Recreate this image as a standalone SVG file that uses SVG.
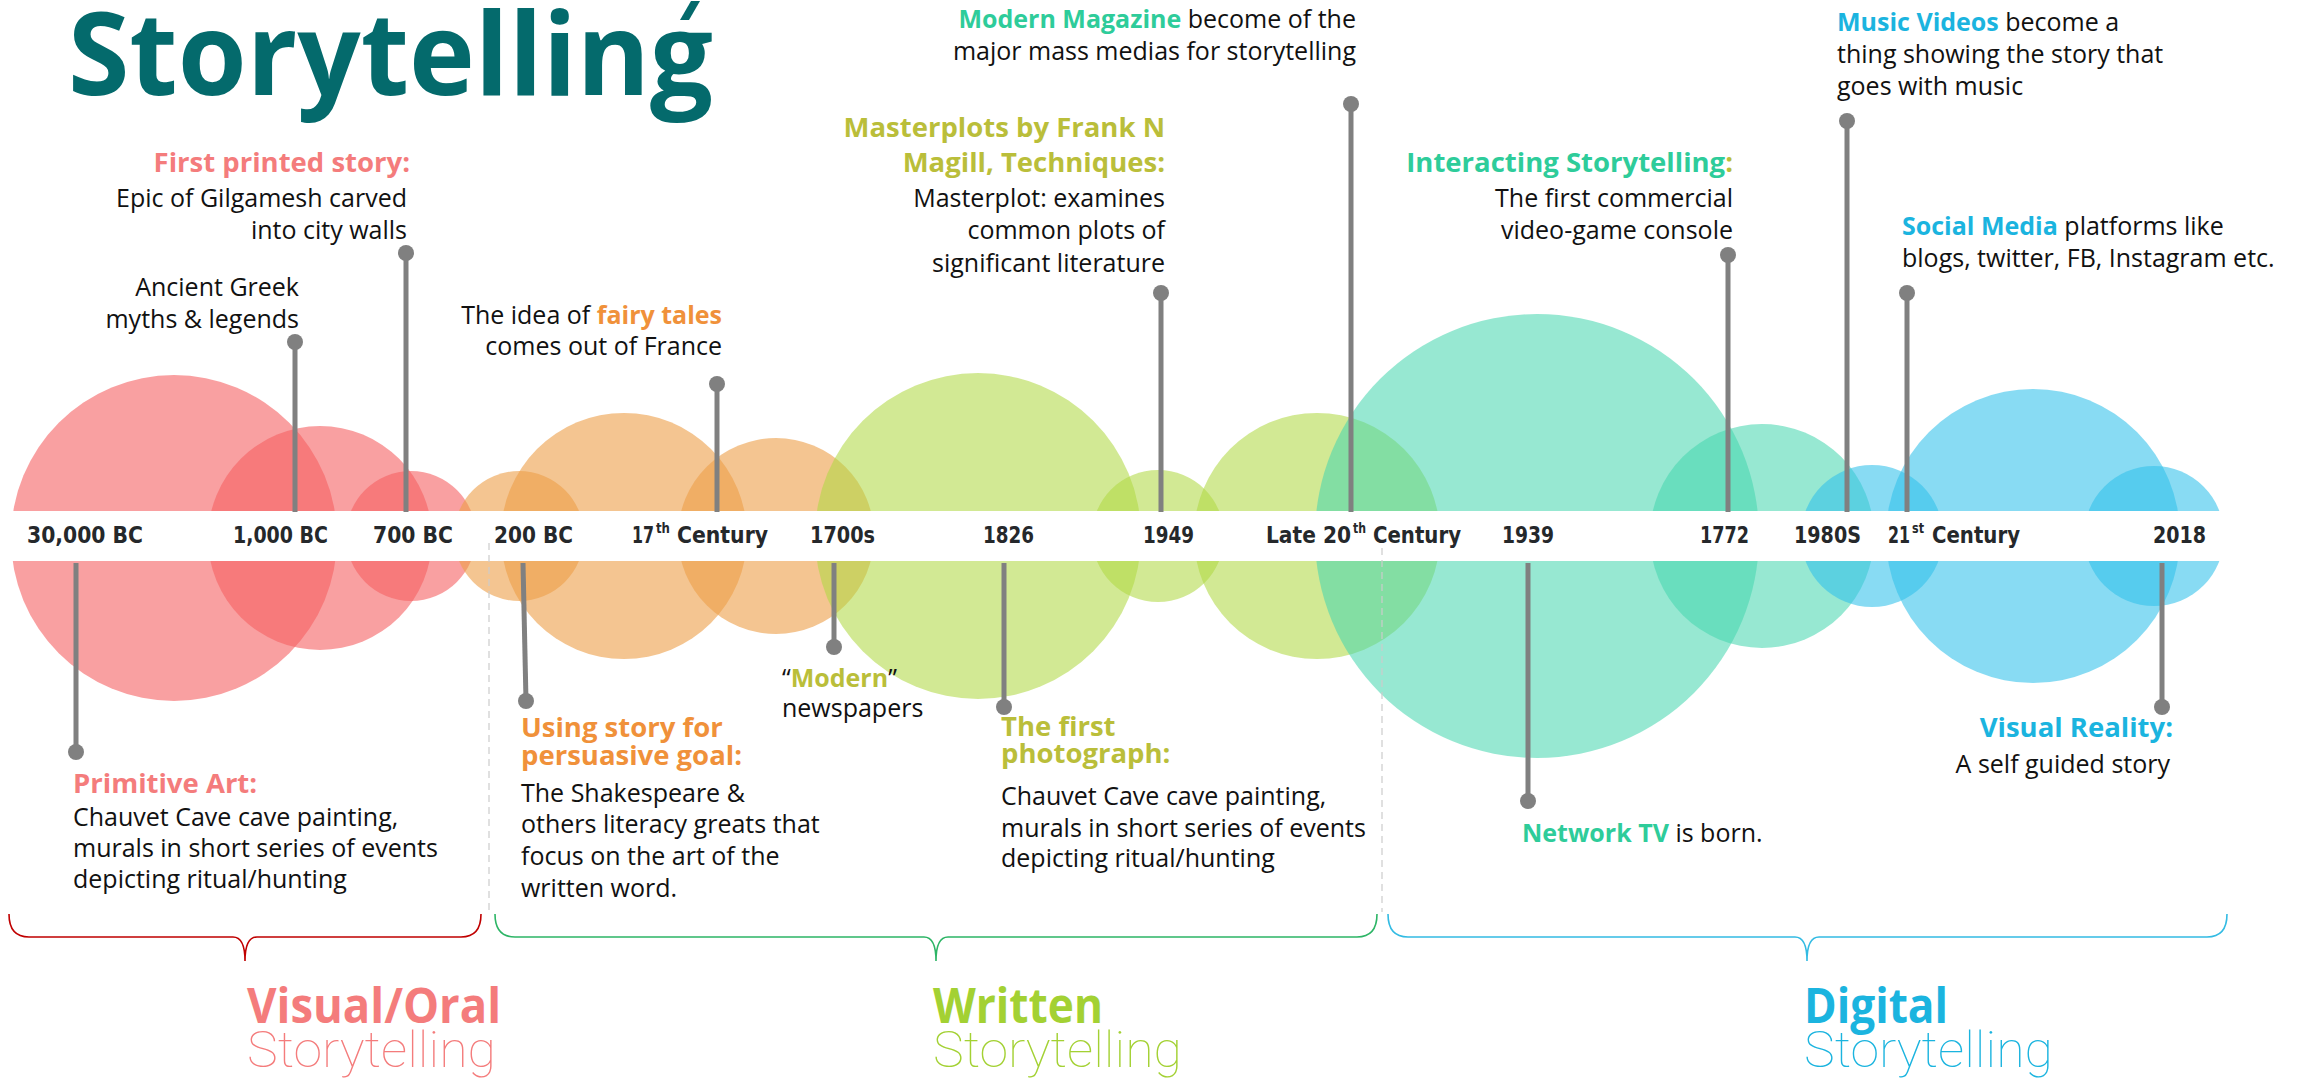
<svg xmlns="http://www.w3.org/2000/svg" width="2300" height="1079" viewBox="0 0 2300 1079">
<defs>
<style>
.bg{fill:#ffffff}
.red{fill:#F56163;fill-opacity:0.6}
.org{fill:#EC9E48;fill-opacity:0.6}
.grn{fill:#AFD842;fill-opacity:0.57}
.tea{fill:#45D6AE;fill-opacity:0.56}
.blu{fill:#32C1EB;fill-opacity:0.58}
.lbl{font-family:'DejaVu Sans Condensed','DejaVu Sans',sans-serif;font-stretch:condensed;font-weight:bold;font-size:23px;fill:#25282B}
.sup{font-size:14px}
.stem{stroke:#808080;stroke-width:5;fill:none}
.dot{fill:#808080}
.body{font-family:'Open Sans','Noto Sans','DejaVu Sans',sans-serif;font-size:25px;fill:#111111}
.hd{font-family:'Open Sans','Noto Sans','DejaVu Sans',sans-serif;font-size:27.5px;font-weight:bold}
.b{font-weight:bold}
.cSal{fill:#F47C7C}
.cOrg{fill:#F0913A}
.cOli{fill:#BABE3A}
.cTea{fill:#2ECC9A}
.cBlu{fill:#1BB4DF}
.sep{stroke:#CCCCCC;stroke-width:1.2;stroke-dasharray:7 5;fill:none}
.brace{fill:none;stroke-width:1.6}
.catB{font-family:'Open Sans','Noto Sans',sans-serif;font-weight:bold;font-size:48px}
.catT{font-family:'Roboto','Lato','Open Sans',sans-serif;font-weight:100;font-size:50px}
</style>
</defs>
<rect class="bg" x="0" y="0" width="2300" height="1079"/>

<g id="title">
<text x="68" y="95" font-family="'Open Sans','Noto Sans',sans-serif" font-weight="bold" font-size="114" fill="#046A6C" textLength="645" lengthAdjust="spacingAndGlyphs">Storytelling</text>
<polygon points="680,20 689,20 700,1 691,1" fill="#046A6C"/>
</g>

<g id="bubbles">
<circle class="red" cx="174" cy="538" r="163"/>
<circle class="red" cx="320" cy="538" r="112"/>
<circle class="red" cx="411" cy="536" r="65"/>
<circle class="org" cx="519" cy="536" r="65"/>
<circle class="org" cx="624" cy="536" r="123"/>
<circle class="org" cx="776" cy="536" r="98"/>
<circle class="grn" cx="978" cy="536" r="163"/>
<circle class="grn" cx="1158" cy="536" r="66"/>
<circle class="grn" cx="1317" cy="536" r="123"/>
<circle class="tea" cx="1537" cy="536" r="222"/>
<circle class="tea" cx="1762" cy="536" r="112"/>
<circle class="blu" cx="1872" cy="536" r="71"/>
<circle class="blu" cx="2033" cy="536" r="147"/>
<circle class="blu" cx="2154" cy="536" r="70"/>
</g>

<rect id="band" class="bg" x="0" y="511" width="2300" height="50"/>

<g id="separators">
<line class="sep" x1="489" y1="543" x2="489" y2="910"/>
<line class="sep" x1="1382" y1="548" x2="1382" y2="912"/>
</g>

<g id="timeline-labels">
<text class="lbl" x="27" y="543" textLength="116" lengthAdjust="spacingAndGlyphs">30,000 BC</text>
<text class="lbl" x="233" y="543" textLength="95" lengthAdjust="spacingAndGlyphs">1,000 BC</text>
<text class="lbl" x="373" y="543" textLength="80" lengthAdjust="spacingAndGlyphs">700 BC</text>
<text class="lbl" x="494" y="543" textLength="79" lengthAdjust="spacingAndGlyphs">200 BC</text>
<text class="lbl" y="543"><tspan x="632" textLength="22" lengthAdjust="spacingAndGlyphs">17</tspan><tspan class="sup" x="656" y="533" textLength="14" lengthAdjust="spacingAndGlyphs">th</tspan><tspan x="677" y="543" textLength="91" lengthAdjust="spacingAndGlyphs">Century</tspan></text>
<text class="lbl" x="810" y="543" textLength="65" lengthAdjust="spacingAndGlyphs">1700s</text>
<text class="lbl" x="983" y="543" textLength="51" lengthAdjust="spacingAndGlyphs">1826</text>
<text class="lbl" x="1143" y="543" textLength="51" lengthAdjust="spacingAndGlyphs">1949</text>
<text class="lbl" y="543"><tspan x="1266" textLength="85" lengthAdjust="spacingAndGlyphs">Late 20</tspan><tspan class="sup" x="1353" y="533" textLength="13" lengthAdjust="spacingAndGlyphs">th</tspan><tspan x="1373" y="543" textLength="88" lengthAdjust="spacingAndGlyphs">Century</tspan></text>
<text class="lbl" x="1502" y="543" textLength="52" lengthAdjust="spacingAndGlyphs">1939</text>
<text class="lbl" x="1700" y="543" textLength="49" lengthAdjust="spacingAndGlyphs">1772</text>
<text class="lbl" x="1794" y="543" textLength="67" lengthAdjust="spacingAndGlyphs">1980S</text>
<text class="lbl" y="543"><tspan x="1888" textLength="22" lengthAdjust="spacingAndGlyphs">21</tspan><tspan class="sup" x="1912" y="533" textLength="12" lengthAdjust="spacingAndGlyphs">st</tspan><tspan x="1932" y="543" textLength="88" lengthAdjust="spacingAndGlyphs">Century</tspan></text>
<text class="lbl" x="2153" y="543" textLength="53" lengthAdjust="spacingAndGlyphs">2018</text>
</g>

<g id="connectors">
<line class="stem" x1="295" y1="342" x2="295" y2="512"/><circle class="dot" cx="295" cy="342" r="8"/>
<line class="stem" x1="406" y1="253" x2="406" y2="512"/><circle class="dot" cx="406" cy="253" r="8"/>
<line class="stem" x1="717" y1="384" x2="717" y2="512"/><circle class="dot" cx="717" cy="384" r="8"/>
<line class="stem" x1="1161" y1="293" x2="1161" y2="512"/><circle class="dot" cx="1161" cy="293" r="8"/>
<line class="stem" x1="1351" y1="104" x2="1351" y2="512"/><circle class="dot" cx="1351" cy="104" r="8"/>
<line class="stem" x1="1728" y1="255" x2="1728" y2="512"/><circle class="dot" cx="1728" cy="255" r="8"/>
<line class="stem" x1="1847" y1="121" x2="1847" y2="512"/><circle class="dot" cx="1847" cy="121" r="8"/>
<line class="stem" x1="1907" y1="293" x2="1907" y2="512"/><circle class="dot" cx="1907" cy="293" r="8"/>
<line class="stem" x1="76" y1="563" x2="76" y2="752"/><circle class="dot" cx="76" cy="752" r="8"/>
<line class="stem" x1="523" y1="563" x2="526" y2="701"/><circle class="dot" cx="526" cy="701" r="8"/>
<line class="stem" x1="834" y1="563" x2="834" y2="647"/><circle class="dot" cx="834" cy="647" r="8"/>
<line class="stem" x1="1004" y1="563" x2="1004" y2="707"/><circle class="dot" cx="1004" cy="707" r="8"/>
<line class="stem" x1="1528" y1="563" x2="1528" y2="801"/><circle class="dot" cx="1528" cy="801" r="8"/>
<line class="stem" x1="2162" y1="563" x2="2162" y2="707"/><circle class="dot" cx="2162" cy="707" r="8"/>
</g>

<g id="note-first-printed" text-anchor="end">
<text class="hd cSal" x="410" y="172">First printed story:</text>
<text class="body" x="407" y="207">Epic of Gilgamesh carved</text>
<text class="body" x="407" y="239">into city walls</text>
</g>
<g id="note-greek" text-anchor="end">
<text class="body" x="299" y="296">Ancient Greek</text>
<text class="body" x="299" y="328">myths &amp; legends</text>
</g>
<g id="note-fairy" text-anchor="end">
<text class="body" x="722" y="324">The idea of <tspan class="b cOrg">fairy tales</tspan></text>
<text class="body" x="722" y="355">comes out of France</text>
</g>
<g id="note-magazine" text-anchor="end">
<text class="body" x="1356" y="28"><tspan class="b cTea">Modern Magazine</tspan> become of the</text>
<text class="body" x="1356" y="60">major mass medias for storytelling</text>
</g>
<g id="note-masterplots" text-anchor="end">
<text class="hd cOli" x="1165" y="137">Masterplots by Frank N</text>
<text class="hd cOli" x="1165" y="172">Magill, Techniques:</text>
<text class="body" x="1165" y="207">Masterplot: examines</text>
<text class="body" x="1165" y="239">common plots of</text>
<text class="body" x="1165" y="272">significant literature</text>
</g>
<g id="note-interacting" text-anchor="end">
<text class="hd cTea" x="1733" y="172">Interacting Storytelling<tspan class="cOli">:</tspan></text>
<text class="body" x="1733" y="207">The first commercial</text>
<text class="body" x="1733" y="239">video-game console</text>
</g>
<g id="note-music">
<text class="body" x="1837" y="31"><tspan class="b cBlu">Music Videos</tspan> become a</text>
<text class="body" x="1837" y="63">thing showing the story that</text>
<text class="body" x="1837" y="95">goes with music</text>
</g>
<g id="note-social">
<text class="body" x="1902" y="235"><tspan class="b cBlu">Social Media</tspan> platforms like</text>
<text class="body" x="1902" y="267">blogs, twitter, FB, Instagram etc.</text>
</g>
<g id="note-primitive">
<text class="hd cSal" x="73" y="793">Primitive Art:</text>
<text class="body" x="73" y="826">Chauvet Cave cave painting,</text>
<text class="body" x="73" y="857">murals in short series of events</text>
<text class="body" x="73" y="888">depicting ritual/hunting</text>
</g>
<g id="note-persuasive">
<text class="hd cOrg" x="521" y="737">Using story for</text>
<text class="hd cOrg" x="521" y="765">persuasive goal:</text>
<text class="body" x="521" y="802">The Shakespeare &amp;</text>
<text class="body" x="521" y="833">others literacy greats that</text>
<text class="body" x="521" y="865">focus on the art of the</text>
<text class="body" x="521" y="897">written word.</text>
</g>
<g id="note-newspapers">
<text class="body" x="782" y="687">“<tspan class="b cOli">Modern</tspan>”</text>
<text class="body" x="782" y="717">newspapers</text>
</g>
<g id="note-photograph">
<text class="hd cOli" x="1001" y="736">The first</text>
<text class="hd cOli" x="1001" y="763">photograph:</text>
<text class="body" x="1001" y="805">Chauvet Cave cave painting,</text>
<text class="body" x="1001" y="837">murals in short series of events</text>
<text class="body" x="1001" y="867">depicting ritual/hunting</text>
</g>
<g id="note-network">
<text class="body" x="1522" y="842"><tspan class="b cTea">Network TV</tspan> is born.</text>
</g>
<g id="note-vr" text-anchor="end">
<text class="hd cBlu" x="2173" y="737">Visual Reality:</text>
<text class="body" x="2170" y="773">A self guided story</text>
</g>

<g id="braces">
<path class="brace" stroke="#C00000" d="M9,914 Q9,937 29,937 L233,937 Q245,937 245,961 Q245,937 257,937 L461,937 Q481,937 481,914"/>
<path class="brace" stroke="#2DB566" d="M495,914 Q495,937 515,937 L924,937 Q936,937 936,961 Q936,937 948,937 L1357,937 Q1377,937 1377,914"/>
<path class="brace" stroke="#33BBE3" d="M1388,914 Q1388,937 1408,937 L1795,937 Q1807,937 1807,961 Q1807,937 1819,937 L2207,937 Q2227,937 2227,914"/>
</g>

<g id="category-visual">
<text class="catB cSal" x="247" y="1023" textLength="254" lengthAdjust="spacingAndGlyphs">Visual/Oral</text>
<text class="catT cSal" x="247" y="1067" textLength="249" lengthAdjust="spacingAndGlyphs">Storytelling</text>
</g>
<g id="category-written">
<text class="catB" fill="#A3D133" x="933" y="1023" textLength="170" lengthAdjust="spacingAndGlyphs">Written</text>
<text class="catT" fill="#A3D133" x="933" y="1067" textLength="249" lengthAdjust="spacingAndGlyphs">Storytelling</text>
</g>
<g id="category-digital">
<text class="catB cBlu" x="1804" y="1023" textLength="144" lengthAdjust="spacingAndGlyphs">Digital</text>
<text class="catT cBlu" x="1804" y="1067" textLength="249" lengthAdjust="spacingAndGlyphs">Storytelling</text>
</g>
</svg>
